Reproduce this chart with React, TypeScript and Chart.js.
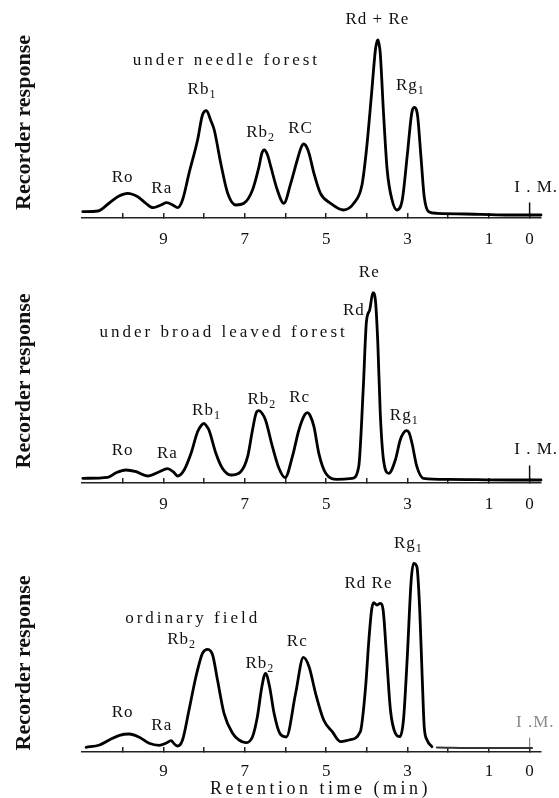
import React, { useEffect, useRef } from 'react';
import { Chart, registerables } from 'chart.js';

Chart.register(...registerables);

const SERIF = '"Liberation Serif", "Times New Roman", serif';

// ---- shared axis values (retention time, min) ----
const tickValues = [0, 1, 2, 3, 4, 5, 6, 7, 8, 9, 10];
const labeledTicks = [9, 7, 5, 3, 1, 0];
const timeMin = -0.28;
const timeMax = 11;

// ---- panel 1: under needle forest ----
const needleTime = [10.98, 10.61, 10.33, 10.09, 9.88, 9.63, 9.43, 9.25, 9.06, 8.92, 8.77, 8.65, 8.53, 8.37, 8.16, 8.04, 7.94, 7.84, 7.75, 7.59, 7.42, 7.22, 7.02, 6.81, 6.65, 6.58, 6.52, 6.44, 6.36, 6.2, 6.04, 5.87, 5.71, 5.61, 5.55, 5.48, 5.42, 5.3, 5.14, 4.89, 4.57, 4.32, 4.12, 4.01, 3.89, 3.79, 3.76, 3.73, 3.7, 3.67, 3.59, 3.5, 3.38, 3.26, 3.13, 3.01, 2.91, 2.88, 2.83, 2.78, 2.75, 2.67, 2.59, 2.48, 2.28, 1.21, 0.48, -0.28];
const needleResponse = [6.3, 7, 15, 22, 24.7, 21.3, 14.7, 10.3, 13, 15.3, 13, 10.3, 18, 44.7, 78, 103, 107.3, 98, 88, 54.7, 24.7, 13, 14.7, 28, 51.3, 64.7, 68, 63, 51.3, 28, 14.7, 34.7, 58, 71, 74, 71, 64.7, 44.7, 24.7, 14.7, 8, 14.7, 33, 68, 121.3, 168, 175, 178, 174, 164.7, 104.7, 48, 18, 8, 18, 61.3, 101.3, 108, 110.7, 108, 101.3, 61.3, 21.3, 6.3, 4.7, 3.7, 3, 3];
const needleMarkTime = [0, 0];
const needleMarkResponse = [3, 15];
const needlePeakNames = ['Ro', 'Ra', 'Rb', 'Rb', 'RC', 'Rd + Re', 'Rg', 'I . M.'];
const needlePeakSubs = ['', '', '1', '2', '', '', '1', ''];
const needlePeakTime = [10.0, 9.04, 8.05, 6.61, 5.63, 3.74, 2.93, -0.16];
const needlePeakLevel = [36, 25, 124, 81, 85, 194, 128, 26];

// ---- panel 2: under broad leaved forest ----
const broadTime = [10.98, 10.37, 10.16, 9.92, 9.67, 9.39, 9.1, 8.9, 8.76, 8.65, 8.49, 8.32, 8.16, 8.06, 8.0, 7.94, 7.88, 7.71, 7.55, 7.34, 7.1, 6.93, 6.81, 6.72, 6.65, 6.58, 6.49, 6.32, 6.16, 6.01, 5.83, 5.67, 5.53, 5.46, 5.4, 5.3, 5.18, 5.01, 4.73, 4.36, 4.2, 4.09, 4.01, 3.93, 3.85, 3.79, 3.73, 3.67, 3.59, 3.46, 3.3, 3.18, 3.1, 3.03, 2.96, 2.89, 2.77, 2.61, 2.03, 0.48, -0.28];
const broadResponse = [4.7, 5.7, 10.3, 13, 11.3, 7, 11.3, 14.3, 11.3, 7, 13, 29.7, 51.3, 58, 59.7, 57, 53, 29.7, 14.7, 8, 11.3, 26.3, 53, 70, 72.3, 70, 63, 36.3, 14.7, 5.3, 26.3, 53, 68, 70.3, 68, 56.3, 29.7, 9.7, 3.7, 4.7, 16.3, 93, 161.3, 173, 190.3, 183, 139.7, 69.7, 23, 9.7, 23, 43, 50, 52.3, 50, 39.7, 16.3, 4.7, 3.7, 3, 3];
const broadMarkTime = [0, 0];
const broadMarkResponse = [3, 17];
const broadPeakNames = ['Ro', 'Ra', 'Rb', 'Rb', 'Rc', 'Rd', 'Re', 'Rg', 'I . M.'];
const broadPeakSubs = ['', '', '1', '2', '', '', '', '1', ''];
const broadPeakTime = [10.0, 8.9, 7.94, 6.58, 5.65, 4.32, 3.94, 3.08, -0.16];
const broadPeakLevel = [28, 25, 68, 79, 81, 168, 206, 63, 29];

// ---- panel 3: ordinary field ----
const fieldTime = [10.9, 10.57, 10.33, 10.08, 9.84, 9.59, 9.35, 9.1, 8.94, 8.81, 8.73, 8.65, 8.53, 8.37, 8.2, 8.04, 7.91, 7.79, 7.67, 7.51, 7.3, 7.14, 6.98, 6.81, 6.69, 6.58, 6.49, 6.39, 6.28, 6.14, 5.98, 5.75, 5.56, 5.42, 5.26, 5.06, 4.85, 4.65, 4.44, 4.16, 4.03, 3.95, 3.88, 3.83, 3.75, 3.67, 3.6, 3.52, 3.42, 3.3, 3.19, 3.1, 3.01, 2.91, 2.85, 2.77, 2.7, 2.64, 2.59, 2.52, 2.4];
const fieldResponse = [4.7, 7, 12, 16.7, 18, 14.7, 8.7, 6.7, 8.7, 11.3, 8, 6, 12, 42, 75.3, 98.7, 102.7, 97, 72, 38.7, 18.7, 12, 9.3, 15.3, 35.3, 65.3, 78.7, 65.3, 38.7, 18.7, 15, 58.7, 94.7, 85.3, 58.7, 32, 20.3, 10.3, 12, 20.3, 65.3, 112, 143, 149.3, 147, 148.7, 142, 98.7, 42, 18.7, 15.3, 32, 92, 172, 188.7, 185.3, 142, 75.3, 25.3, 12, 5.3];
const fieldTailTime = [2.28, 1.2, -0.06];
const fieldTailResponse = [4.5, 4, 4];
const fieldMarkTime = [0, 0];
const fieldMarkResponse = [4, 14];
const fieldPeakNames = ['Ro', 'Ra', 'Rb', 'Rb', 'Rc', 'Rd Re', 'Rg', 'I .M.'];
const fieldPeakSubs = ['', '', '2', '2', '', '', '1', ''];
const fieldPeakTime = [10.0, 9.04, 8.55, 6.63, 5.71, 3.96, 2.98, -0.14];
const fieldPeakLevel = [35, 22, 108, 84, 106, 164, 204, 25];

const yTitle = 'Recorder response';
const xTitle = 'Retention time (min)';

type Label = { text: string; sub?: string; t: number; y?: number; dy?: number; size: number; spacing: number; color: string };

function pts(xs: number[], ys: number[]) {
  return xs.map((x, i) => ({ x, y: ys[i] }));
}

function peakLabels(names: string[], subs: string[], times: number[], levels: number[], faintLast = false): Label[] {
  return names.map((n, i) => ({
    text: n,
    sub: subs[i],
    t: times[i],
    y: levels[i],
    size: 17,
    spacing: 1,
    color: faintLast && i === names.length - 1 ? '#8a8a8a' : '#111',
  }));
}

const textPlugin = {
  id: 'chromText',
  afterDraw(chart: any, _args: any, opts: any) {
    const { ctx, chartArea } = chart;
    const xs = chart.scales.x;
    const ys = chart.scales.y;
    (opts.items || []).forEach((item: Label) => {
      const cx = xs.getPixelForValue(item.t);
      const by = item.y !== undefined ? ys.getPixelForValue(item.y) : chartArea.bottom + (item.dy || 0);
      ctx.save();
      ctx.fillStyle = item.color;
      ctx.textAlign = 'left';
      ctx.textBaseline = 'alphabetic';
      const mainFont = `${item.size}px ${SERIF}`;
      const subFont = `${Math.round(item.size * 0.7)}px ${SERIF}`;
      ctx.letterSpacing = `${item.spacing}px`;
      ctx.font = mainFont;
      const w1 = ctx.measureText(item.text).width;
      let w2 = 0;
      if (item.sub) {
        ctx.font = subFont;
        w2 = ctx.measureText(item.sub).width;
      }
      const x0 = cx - (w1 + w2) / 2;
      ctx.font = mainFont;
      ctx.fillText(item.text, x0, by);
      if (item.sub) {
        ctx.font = subFont;
        ctx.fillText(item.sub, x0 + w1, by + 4);
      }
      ctx.restore();
    });
  },
};

type PanelSpec = {
  height: number;
  padTop: number;
  xAxisHeight: number;
  yMax: number;
  tickPad: number;
  datasets: any[];
  labels: Label[];
};

function lineSet(data: any[], color = '#000', width = 2.8) {
  return {
    data,
    borderColor: color,
    borderWidth: width,
    pointRadius: 0,
    fill: false,
    cubicInterpolationMode: 'monotone',
    clip: false,
    borderCapStyle: 'round',
    borderJoinStyle: 'round',
  };
}

const panels: PanelSpec[] = [
  {
    height: 258,
    padTop: 27,
    xAxisHeight: 40,
    yMax: 191,
    tickPad: 16,
    datasets: [lineSet(pts(needleTime, needleResponse)), lineSet(pts(needleMarkTime, needleMarkResponse), '#111', 1.5)],
    labels: [
      ...peakLabels(needlePeakNames, needlePeakSubs, needlePeakTime, needlePeakLevel),
      { text: 'under needle forest', t: 7.45, y: 153, size: 17, spacing: 3, color: '#111' },
    ],
  },
  {
    height: 262,
    padTop: 21,
    xAxisHeight: 37,
    yMax: 204,
    tickPad: 16,
    datasets: [lineSet(pts(broadTime, broadResponse)), lineSet(pts(broadMarkTime, broadMarkResponse), '#111', 1.5)],
    labels: [
      ...peakLabels(broadPeakNames, broadPeakSubs, broadPeakTime, broadPeakLevel),
      { text: 'under broad leaved forest', t: 7.52, y: 146, size: 17, spacing: 3, color: '#111' },
    ],
  },
  {
    height: 278,
    padTop: 54,
    xAxisHeight: 46,
    yMax: 178,
    tickPad: 14,
    datasets: [
      lineSet(pts(fieldTime, fieldResponse)),
      lineSet(pts(fieldTailTime, fieldTailResponse), '#333', 2),
      lineSet(pts(fieldMarkTime, fieldMarkResponse), '#888', 1.2),
    ],
    labels: [
      ...peakLabels(fieldPeakNames, fieldPeakSubs, fieldPeakTime, fieldPeakLevel, true),
      { text: 'ordinary field', t: 8.28, y: 129, size: 17, spacing: 3, color: '#111' },
      { text: xTitle, t: 5.14, dy: 42, size: 18, spacing: 3.5, color: '#111' },
    ],
  },
];

function makeChart(canvas: HTMLCanvasElement, spec: PanelSpec) {
  return new Chart(canvas, {
    type: 'line',
    data: { datasets: spec.datasets },
    options: {
      responsive: false,
      maintainAspectRatio: false,
      animation: false,
      devicePixelRatio: 1,
      layout: { padding: { top: spec.padTop, right: 18, bottom: 0, left: 0 } },
      plugins: {
        legend: { display: false },
        tooltip: { enabled: false },
        chromText: { items: spec.labels },
      },
      scales: {
        x: {
          type: 'linear',
          reverse: true,
          min: timeMin,
          max: timeMax,
          afterBuildTicks: (s: any) => {
            s.ticks = tickValues.map((v) => ({ value: v }));
          },
          afterFit: (s: any) => {
            s.height = spec.xAxisHeight;
          },
          ticks: {
            autoSkip: false,
            maxRotation: 0,
            padding: spec.tickPad,
            color: '#111',
            font: { family: SERIF, size: 17 },
            callback: (v: any) => (labeledTicks.includes(Number(v)) ? String(v) : ''),
          },
          grid: {
            display: true,
            drawOnChartArea: false,
            drawTicks: true,
            tickLength: -5,
            color: '#222',
            lineWidth: 1.5,
          },
          border: { display: true, color: '#222', width: 1.6 },
        },
        y: {
          type: 'linear',
          min: 0,
          max: spec.yMax,
          afterFit: (s: any) => {
            s.width = 82;
          },
          ticks: { display: false },
          grid: { display: false },
          border: { display: false },
          title: {
            display: true,
            text: yTitle,
            color: '#111',
            font: { family: SERIF, size: 22, weight: 'bold' },
            padding: { top: 11, bottom: 0 },
          },
        },
      },
    } as any,
    plugins: [textPlugin as any],
  });
}

export default function App() {
  const r1 = useRef<HTMLCanvasElement>(null);
  const r2 = useRef<HTMLCanvasElement>(null);
  const r3 = useRef<HTMLCanvasElement>(null);

  useEffect(() => {
    const refs = [r1, r2, r3];
    const charts = refs.map((r, i) => makeChart(r.current as HTMLCanvasElement, panels[i]));
    return () => charts.forEach((c) => c.destroy());
  }, []);

  const tops = [0, 258, 520];
  const refs = [r1, r2, r3];
  return (
    <div style={{ position: 'absolute', left: 0, top: 0, width: 559, height: 798, background: '#fff' }}>
      {panels.map((p, i) => (
        <canvas
          key={i}
          ref={refs[i]}
          width={559}
          height={p.height}
          style={{ position: 'absolute', left: 0, top: tops[i], width: 559, height: p.height, display: 'block' }}
        />
      ))}
    </div>
  );
}
